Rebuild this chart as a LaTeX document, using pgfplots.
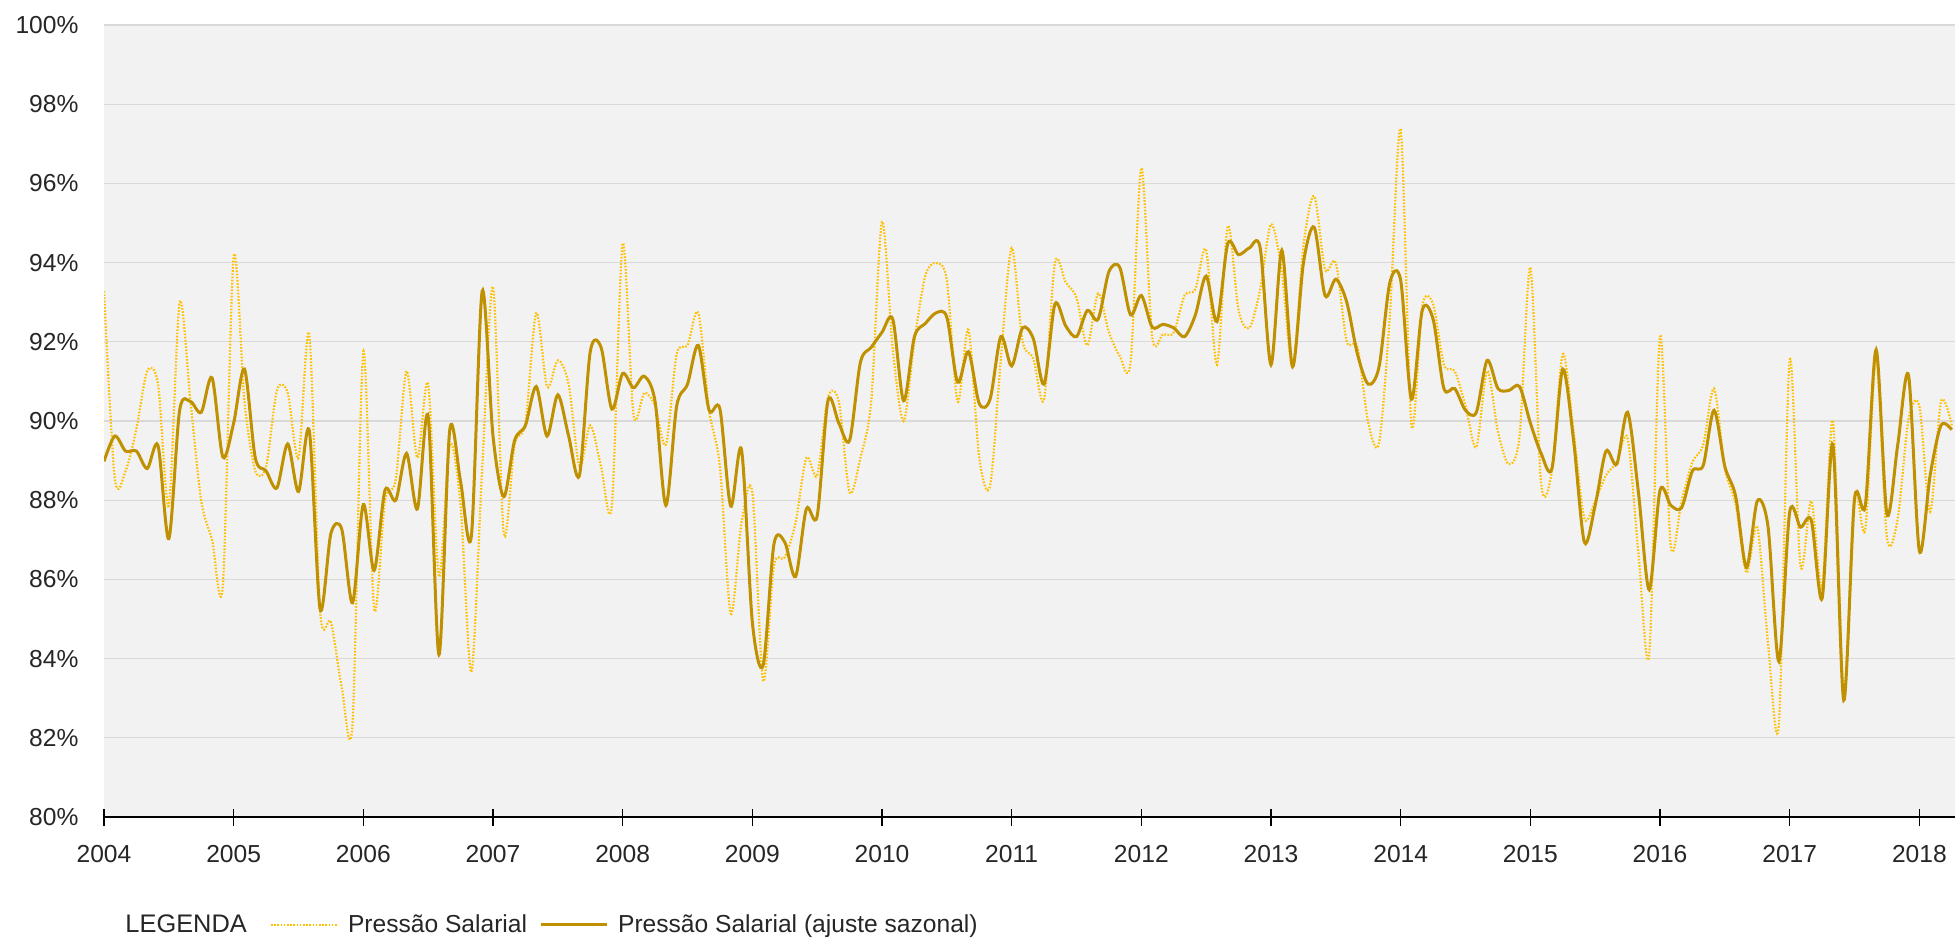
\documentclass[border=0pt]{standalone}
\usepackage{fontspec}
\setmainfont{Liberation Sans}
\usepackage{pgfplots}
\pgfplotsset{compat=1.18}
\usepackage{pgfplotstable}
\definecolor{rawc}{HTML}{FFC000}
\definecolor{sac}{HTML}{BF9000}
\definecolor{bgc}{HTML}{F2F2F2}
\definecolor{gridc}{HTML}{D9D9D9}
\pgfplotsset{legend image code/.code={\draw[#1] (0bp,0bp) -- (33bp,0bp);}}

\pgfplotstableread{
m raw sa
0 93.28 88.98
1 88.55 89.62
2 88.74 89.24
3 89.8 89.24
4 91.26 88.8
5 90.93 89.38
6 87.87 87.03
7 93.0 90.27
8 90.5 90.49
9 87.98 90.22
10 87.0 91.09
11 85.85 89.09
12 94.15 89.95
13 90.5 91.31
14 88.74 89.07
15 88.85 88.74
16 90.77 88.31
17 90.71 89.42
18 89.07 88.22
19 92.19 89.75
20 85.19 85.25
21 84.92 87.16
22 83.28 87.27
23 82.35 85.41
24 91.75 87.89
25 85.25 86.23
26 87.98 88.25
27 88.52 88.0
28 91.26 89.18
29 89.07 87.78
30 90.93 90.11
31 86.07 84.1
32 89.4 89.78
33 87.87 88.47
34 83.66 87.1
35 88.8 93.28
36 93.39 89.62
37 87.16 88.09
38 89.4 89.51
39 89.95 89.89
40 92.73 90.87
41 90.87 89.62
42 91.53 90.66
43 90.93 89.62
44 88.85 88.63
45 89.89 91.75
46 88.85 91.86
47 87.87 90.3
48 94.48 91.2
49 90.16 90.84
50 90.71 91.13
51 90.38 90.49
52 89.4 87.87
53 91.69 90.38
54 91.91 90.93
55 92.73 91.91
56 90.27 90.27
57 88.85 90.3
58 85.14 87.85
59 87.43 89.27
60 88.2 84.92
61 83.44 83.83
62 86.34 86.89
63 86.56 86.94
64 87.43 86.07
65 89.07 87.78
66 88.63 87.6
67 90.6 90.51
68 90.49 89.95
69 88.2 89.51
70 89.07 91.48
71 90.5 91.86
72 95.03 92.24
73 91.8 92.57
74 90.0 90.51
75 92.02 92.13
76 93.66 92.46
77 93.99 92.73
78 93.55 92.62
79 90.49 90.98
80 92.3 91.75
81 89.07 90.44
82 88.36 90.55
83 91.58 92.13
84 94.37 91.39
85 92.02 92.35
86 91.58 92.08
87 90.55 90.93
88 93.99 92.95
89 93.5 92.4
90 93.11 92.13
91 91.91 92.79
92 93.22 92.57
93 92.24 93.77
94 91.64 93.88
95 91.48 92.68
96 96.39 93.17
97 92.13 92.37
98 92.19 92.44
99 92.24 92.35
100 93.17 92.13
101 93.33 92.68
102 94.31 93.66
103 91.42 92.51
104 94.92 94.48
105 92.79 94.2
106 92.35 94.37
107 93.33 94.37
108 94.97 91.42
109 93.77 94.31
110 91.37 91.37
111 94.42 93.99
112 95.68 94.89
113 93.83 93.17
114 93.99 93.58
115 92.02 93.01
116 91.86 91.69
117 89.95 90.93
118 89.45 91.37
119 92.68 93.5
120 97.36 93.55
121 89.89 90.55
122 92.9 92.8
123 92.95 92.57
124 91.42 90.82
125 91.26 90.82
126 90.38 90.27
127 89.34 90.22
128 91.26 91.53
129 89.73 90.82
130 88.91 90.77
131 89.62 90.87
132 93.88 89.95
133 88.42 89.18
134 88.74 88.8
135 91.69 91.31
136 89.73 89.51
137 87.54 86.94
138 87.98 87.87
139 88.63 89.24
140 88.96 88.91
141 89.56 90.22
142 86.67 88.2
143 84.1 85.74
144 92.13 88.25
145 86.83 87.87
146 87.98 87.81
147 88.96 88.74
148 89.4 88.88
149 90.82 90.27
150 88.8 88.85
151 87.9 88.1
152 86.17 86.3
153 87.32 87.98
154 84.37 87.32
155 82.35 83.93
156 91.53 87.7
157 86.34 87.32
158 87.98 87.49
159 85.8 85.52
160 90.0 89.4
161 83.17 82.95
162 88.09 88.03
163 87.27 87.87
164 91.58 91.8
165 87.05 87.65
166 87.54 89.4
167 90.05 91.15
168 90.38 86.72
169 87.71 88.63
170 90.49 89.89
171 89.89 89.78
}\data

\begin{document}
\begin{tikzpicture}[font=\fontsize{12.3bp}{14.8bp}\selectfont]
\path[use as bounding box] (-52bp,-61bp) rectangle (925.5bp,408.5bp);
\begin{axis}[
  at={(0,0)}, anchor=south west,
  scale only axis, width=925.5bp, height=396bp,
  xmin=0, xmax=171.3, ymin=80, ymax=100,
  axis background/.style={fill=bgc},
  axis x line*=bottom, axis y line*=left,
  x axis line style={-, black, line width=0.8bp},
  y axis line style={draw=none},
  ytick={80,82,...,100},
  ymajorgrids, major grid style={gridc, line width=0.6bp},
  ytick style={draw=none},
  xtick={0,12,...,168},
  xticklabels={2004,2005,2006,2007,2008,2009,2010,2011,2012,2013,2014,2015,2016,2017,2018},
  xtick style={black, line width=0.6bp},
  tick align=center, major tick length=8.5bp,
  yticklabel={\pgfmathprintnumber{\tick}\%},
  /pgf/number format/assume math mode=true,
  /pgf/number format/fixed, /pgf/number format/precision=0,
  yticklabel style={font=\fontsize{12.3bp}{14.8bp}\selectfont, color=black!85, xshift=-5bp},
  xticklabel style={font=\fontsize{12.3bp}{14.8bp}\selectfont, color=black!85, yshift=-6.5bp},
  legend style={at={(0.006,-0.136)}, anchor=west, draw=none, fill=none,
    font=\fontsize{12.3bp}{14.8bp}\selectfont, text=black!85,
    /tikz/every even column/.append style={column sep=4bp}},
  legend columns=-1,
  legend cell align=left,
]
\addlegendimage{empty legend}
\addlegendentry{\fontsize{12.7bp}{14.8bp}\selectfont LEGENDA\kern5.5bp}
\addplot[rawc, line width=1.1bp, dash pattern=on 0.8bp off 0.8bp, smooth]
  table[x=m, y=raw] {\data};
\addlegendentry{\kern3bp Pressão Salarial}
\addplot[sac, line width=1.5bp, smooth]
  table[x=m, y=sa] {\data};
\addlegendentry{\kern3bp Pressão Salarial (ajuste sazonal)}
\end{axis}
\end{tikzpicture}
\end{document}
